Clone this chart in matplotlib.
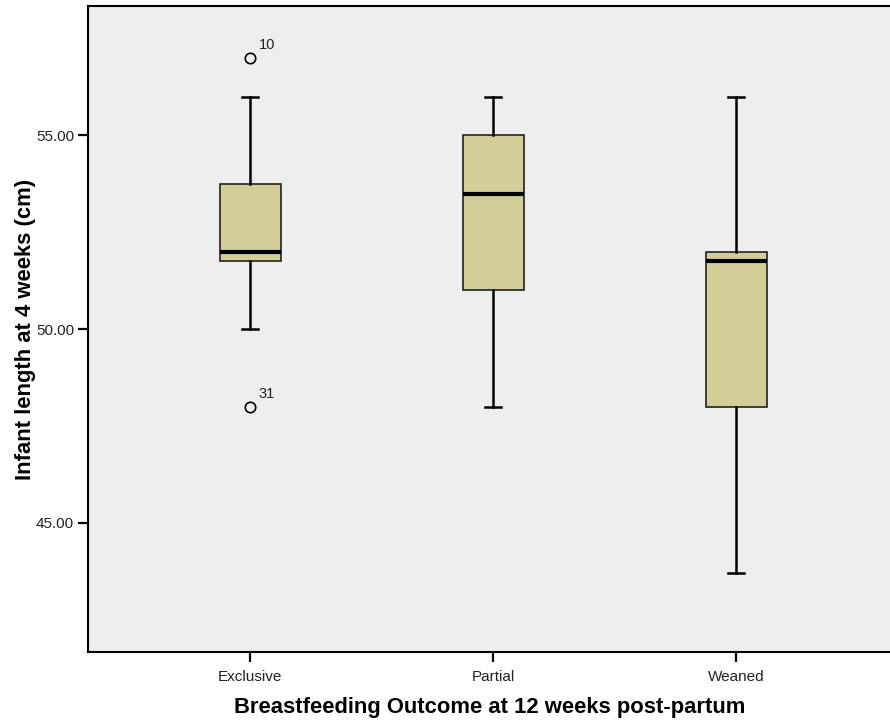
import matplotlib
matplotlib.use("Agg")
import matplotlib.pyplot as plt

plt.rcParams['font.family'] = ['Liberation Sans', 'DejaVu Sans']

categories = ["Exclusive", "Partial", "Weaned"]
whisker_low = [50.0, 48.0, 43.7]
q1 = [51.75, 51.0, 48.0]
median = [52.0, 53.5, 51.75]
q3 = [53.75, 55.0, 52.0]
whisker_high = [56.0, 56.0, 56.0]
outliers = [[57.0, 48.0], [], []]
outlier_ids = [["10", "31"], [], []]
yticks = [45.0, 50.0, 55.0]

fig = plt.figure(figsize=(8.9, 7.21), dpi=100)
ax = fig.add_axes([88/890, 1 - 652/721, 1 - 88/890 + 0.002, (652 - 6)/721])
ax.set_facecolor('#EEEEEE')

stats = []
for i, c in enumerate(categories):
    stats.append(dict(label=c, whislo=whisker_low[i], q1=q1[i], med=median[i],
                      q3=q3[i], whishi=whisker_high[i], fliers=outliers[i]))

pos = list(range(len(categories)))
ax.bxp(stats, positions=pos, widths=0.25, patch_artist=True, showfliers=True,
       boxprops=dict(facecolor='#D3CE98', edgecolor='#222222', linewidth=1.2),
       medianprops=dict(color='black', linewidth=3),
       whiskerprops=dict(color='black', linewidth=1.8),
       capprops=dict(color='black', linewidth=1.8),
       capwidths=0.065,
       flierprops=dict(marker='o', markerfacecolor='none', markeredgecolor='black',
                       markersize=7.5, markeredgewidth=1.2))

for i, (vals, ids) in enumerate(zip(outliers, outlier_ids)):
    for v, t in zip(vals, ids):
        ax.annotate(t, (pos[i], v), xytext=(6, 4), textcoords='offset points',
                    fontsize=10.5, color='#222222', va='bottom', ha='left')

ax.set_xlim(-0.668, 2.64)
ax.set_ylim(41.67, 58.34)
ax.set_yticks(yticks)
ax.set_yticklabels([f"{v:.2f}" for v in yticks], fontsize=11)
ax.set_xticks(pos)
ax.set_xticklabels(categories, fontsize=11)
ax.tick_params(axis='both', direction='out', length=7, width=1.6, color='black', labelcolor='#222222')
ax.tick_params(axis='x', pad=6)
ax.tick_params(axis='y', pad=3)

for s in ['left', 'bottom', 'top']:
    ax.spines[s].set_linewidth(1.5)
    ax.spines[s].set_color('black')
ax.spines['right'].set_visible(False)

ax.set_xlabel("Breastfeeding Outcome at 12 weeks post-partum", fontsize=15.8,
              fontweight='bold', labelpad=9)
ax.set_ylabel("Infant length at 4 weeks (cm)", fontsize=15.8, fontweight='bold', labelpad=0)

fig.savefig("out.png", dpi=100)
